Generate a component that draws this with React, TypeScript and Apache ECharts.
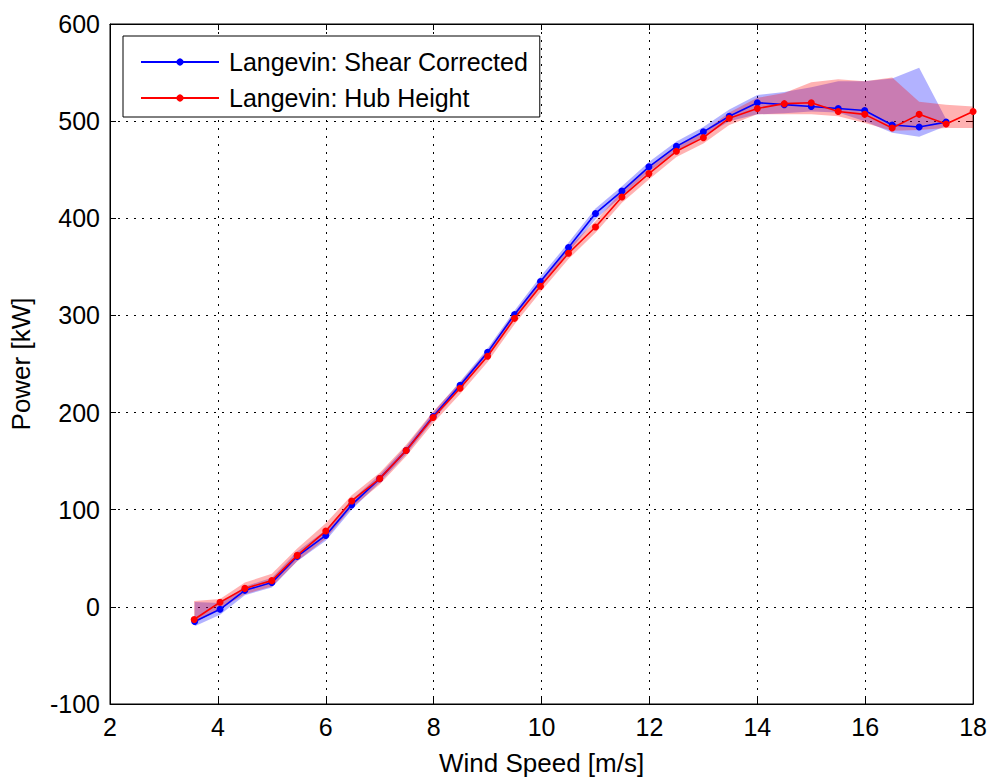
import React, { useEffect, useRef } from "react";
import * as echarts from "echarts";

// Wind speed bin centres [m/s]
const shearX = [3.57, 4.04, 4.5, 5.0, 5.47, 6.0, 6.48, 7.0, 7.49, 7.99, 8.49, 9.0, 9.5, 9.98, 10.5, 11.0, 11.49, 11.99, 12.5, 13.0, 13.48, 14.0, 14.5, 15.0, 15.5, 15.99, 16.5, 17.0, 17.5];
const shearY = [-15, -2.5, 17, 25, 52, 73.5, 105, 132, 161, 196, 228, 262, 301, 335, 370, 405, 428, 453, 474, 489, 505, 519, 517, 515, 513, 511, 496, 494, 499];
const shearLo = [-20, -8, 12, 20, 47, 68, 100, 128, 157, 192, 224, 258, 297, 331, 365, 399, 423, 448, 469, 484, 500, 507, 508, 510, 509, 500, 488, 484, 495];
const shearHi = [5, 4, 21, 30, 57, 79, 110, 136, 165, 200, 232, 266, 305, 340, 375, 410, 433, 458, 479, 494, 512, 527, 530, 535, 541, 541, 544, 555, 502];

const hubX = [3.56, 4.04, 4.5, 5.0, 5.47, 6.0, 6.48, 7.0, 7.49, 7.99, 8.49, 9.0, 9.5, 9.98, 10.5, 11.0, 11.49, 11.99, 12.5, 13.0, 13.48, 14.0, 14.5, 15.0, 15.5, 15.99, 16.5, 17.0, 17.5, 18.0];
const hubY = [-13, 4.7, 19, 27, 53, 78, 109, 132, 161, 195, 225, 258, 297, 330, 364, 391, 422, 446, 469, 483, 503, 513, 518, 519, 510, 507, 493, 507, 497, 510];
const hubLo = [-17, -2, 13, 21, 47, 70, 102, 126, 155, 189, 219, 252, 291, 324, 358, 385, 416, 440, 463, 477, 496, 507, 507, 507, 505, 498, 490, 491, 493, 493];
const hubHi = [6, 8, 25, 34, 60, 86, 115, 138, 167, 201, 231, 264, 303, 336, 370, 397, 428, 452, 475, 489, 509, 524, 529, 540, 543, 541, 545, 520, 517, 515];

const xTicks = { min: 2, max: 18, interval: 2 };
const yTicks = { min: -100, max: 600, interval: 100 };

const FONT = "Liberation Sans, Arial, sans-serif";

function bandSeries(name: string, xs: number[], lo: number[], hi: number[], fill: string) {
  return {
    type: "custom",
    name,
    z: 1,
    silent: true,
    data: xs.map((x, i) => [x, lo[i], hi[i]]),
    encode: { x: 0, y: [1, 2] },
    renderItem: (params: any, api: any) => {
      if (params.dataIndex !== 0) return null;
      const pts: number[][] = [];
      for (let i = 0; i < xs.length; i++) pts.push(api.coord([xs[i], hi[i]]));
      for (let i = xs.length - 1; i >= 0; i--) pts.push(api.coord([xs[i], lo[i]]));
      return {
        type: "polygon",
        shape: { points: pts },
        style: { fill, stroke: "none" },
      };
    },
  };
}

export default function App() {
  const ref = useRef<HTMLDivElement>(null);
  useEffect(() => {
    if (!ref.current) return;
    const chart = echarts.init(ref.current, undefined, { renderer: "svg" });
    const grid = { left: 110, right: 12, top: 24, bottom: 75 };
    const dotted = { show: true, lineStyle: { color: "#000", type: [2, 6] as any, width: 1 } };
    chart.setOption({
      animation: false,
      backgroundColor: "#fff",
      textStyle: { fontFamily: FONT },
      grid: { ...grid, show: true, borderColor: "#000", borderWidth: 1, backgroundColor: "transparent" },
      legend: {
        data: ["Langevin: Shear Corrected", "Langevin: Hub Height"],
        orient: "vertical",
        left: 123,
        top: 36,
        padding: [13, 12, 6, 17],
        itemGap: 10,
        itemWidth: 78,
        itemHeight: 9,
        borderColor: "#000",
        borderWidth: 1,
        borderRadius: 0,
        backgroundColor: "#fff",
        textStyle: { fontFamily: FONT, fontSize: 25, color: "#000", lineHeight: 26, padding: [0, 0, 0, 5] },
      },
      xAxis: [
        {
          type: "value",
          ...xTicks,
          name: "Wind Speed [m/s]",
          nameLocation: "middle",
          nameGap: 46,
          nameTextStyle: { fontFamily: FONT, fontSize: 26, color: "#000" },
          axisLine: { show: true, onZero: false, lineStyle: { color: "#000", width: 1 } },
          axisTick: { show: true, inside: true, length: 6, lineStyle: { color: "#000" } },
          axisLabel: { fontFamily: FONT, fontSize: 25, color: "#000", margin: 10 },
          splitLine: dotted,
        },
        {
          type: "value",
          position: "top",
          ...xTicks,
          axisLine: { show: true, onZero: false, lineStyle: { color: "#000", width: 1 } },
          axisTick: { show: true, inside: true, length: 6, lineStyle: { color: "#000" } },
          axisLabel: { show: false },
          splitLine: { show: false },
        },
      ],
      yAxis: [
        {
          type: "value",
          ...yTicks,
          name: "Power [kW]",
          nameLocation: "middle",
          nameGap: 76,
          nameTextStyle: { fontFamily: FONT, fontSize: 26, color: "#000" },
          axisLine: { show: true, onZero: false, lineStyle: { color: "#000", width: 1 } },
          axisTick: { show: true, inside: true, length: 6, lineStyle: { color: "#000" } },
          axisLabel: { fontFamily: FONT, fontSize: 25, color: "#000", margin: 10 },
          splitLine: dotted,
        },
        {
          type: "value",
          position: "right",
          ...yTicks,
          axisLine: { show: true, onZero: false, lineStyle: { color: "#000", width: 1 } },
          axisTick: { show: true, inside: true, length: 6, lineStyle: { color: "#000" } },
          axisLabel: { show: false },
          splitLine: { show: false },
        },
      ],
      series: [
        bandSeries("shearBand", shearX, shearLo, shearHi, "rgba(0,0,255,0.3)"),
        bandSeries("hubBand", hubX, hubLo, hubHi, "rgba(255,0,0,0.3)"),
        {
          type: "line",
          name: "Langevin: Shear Corrected",
          z: 3,
          data: shearX.map((x, i) => [x, shearY[i]]),
          symbol: "circle",
          symbolSize: 7,
          showSymbol: true,
          lineStyle: { color: "#0000ff", width: 1.6 },
          itemStyle: { color: "#0000ff" },
        },
        {
          type: "line",
          name: "Langevin: Hub Height",
          z: 4,
          data: hubX.map((x, i) => [x, hubY[i]]),
          symbol: "circle",
          symbolSize: 7,
          showSymbol: true,
          lineStyle: { color: "#ff0000", width: 1.6 },
          itemStyle: { color: "#ff0000" },
        },
      ],
    });
    return () => chart.dispose();
  }, []);
  return <div ref={ref} style={{ width: 990, height: 781, position: "absolute", left: 0, top: 0 }} />;
}
